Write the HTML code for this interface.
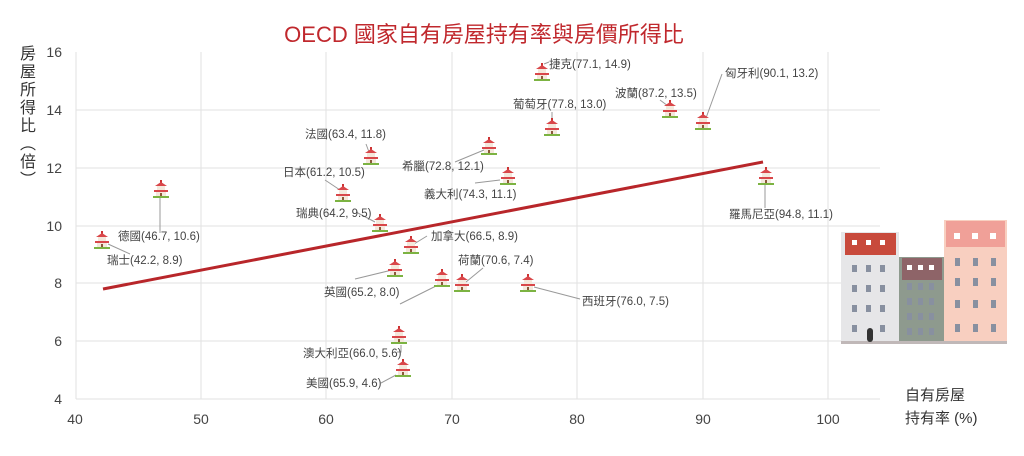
<!DOCTYPE html>
<html><head><meta charset="utf-8"><style>
body{margin:0;background:#fff;}
svg text{font-family:"Liberation Sans","Noto Sans CJK TC",sans-serif;}
</style></head><body>
<svg width="1024" height="451" viewBox="0 0 1024 451" xmlns="http://www.w3.org/2000/svg">
<defs>
<g id="h">
<rect x="-1" y="-10" width="2" height="3" fill="#c33"/>
<polygon points="-6,-4 0,-8 6,-4" fill="#d9474a"/>
<rect x="-4" y="-4" width="8" height="4" fill="#f4e8dc"/>
<rect x="-7" y="0" width="14" height="2" fill="#d9474a"/>
<rect x="-5" y="2" width="10" height="4" fill="#f4e8dc"/>
<rect x="-1" y="3" width="2" height="3" fill="#8a5a3a"/>
<rect x="-8" y="6" width="16" height="2" fill="#7cb342"/>
</g>
</defs>
<g stroke="#e2e2e2" stroke-width="1">
<line x1="201" y1="52" x2="201" y2="399"/><line x1="326" y1="52" x2="326" y2="399"/>
<line x1="452" y1="52" x2="452" y2="399"/><line x1="577" y1="52" x2="577" y2="399"/>
<line x1="703" y1="52" x2="703" y2="399"/><line x1="828" y1="52" x2="828" y2="399"/>
<line x1="76" y1="52" x2="76" y2="399"/>
<line x1="76" y1="110" x2="880" y2="110"/><line x1="76" y1="168" x2="880" y2="168"/>
<line x1="76" y1="226" x2="880" y2="226"/><line x1="76" y1="283" x2="880" y2="283"/>
<line x1="76" y1="341" x2="880" y2="341"/><line x1="76" y1="399" x2="880" y2="399"/>
</g>
<g font-size="14" fill="#444" text-anchor="end">
<text x="62" y="57">16</text><text x="62" y="115">14</text><text x="62" y="173">12</text>
<text x="62" y="231">10</text><text x="62" y="288">8</text><text x="62" y="346">6</text><text x="62" y="404">4</text>
</g>
<g font-size="14" fill="#444" text-anchor="middle">
<text x="75" y="424">40</text><text x="201" y="424">50</text><text x="326" y="424">60</text>
<text x="452" y="424">70</text><text x="577" y="424">80</text><text x="703" y="424">90</text><text x="828" y="424">100</text>
</g>
<g font-size="16" fill="#333" text-anchor="middle">
<text x="28" y="59">房</text><text x="28" y="77">屋</text><text x="28" y="95">所</text>
<text x="28" y="113">得</text><text x="28" y="131">比</text><text x="28" y="149">︵</text><text x="28" y="167">倍</text><text x="28" y="185">︶</text>
</g>
<text x="905" y="400" font-size="15" fill="#333">自有房屋</text>
<text x="905" y="423" font-size="15" fill="#333">持有率 (%)</text>
<text x="484" y="42" font-size="22" fill="#c0282d" text-anchor="middle">OECD 國家自有房屋持有率與房價所得比</text>
<rect x="841" y="232" width="58" height="111" fill="#e6e6e8"/>
<rect x="845" y="233" width="51" height="22" fill="#c84a3c"/>
<rect x="899" y="257" width="45" height="86" fill="#8e9a8e"/>
<rect x="902" y="258" width="40" height="22" fill="#8e6468"/>
<rect x="944" y="220" width="63" height="123" fill="#f8cfc0"/>
<rect x="946" y="221" width="59" height="26" fill="#f0a098"/>
<rect x="841" y="341" width="166" height="3" fill="#c0b8b8"/>
<rect x="867" y="328" width="6" height="14" rx="3" fill="#333"/>
<g fill="#fff">
<rect x="852" y="240" width="5" height="5"/><rect x="866" y="240" width="5" height="5"/><rect x="880" y="240" width="5" height="5"/>
<rect x="907" y="265" width="5" height="5"/><rect x="918" y="265" width="5" height="5"/><rect x="929" y="265" width="5" height="5"/>
<rect x="954" y="233" width="6" height="6"/><rect x="972" y="233" width="6" height="6"/><rect x="990" y="233" width="6" height="6"/>
</g>
<g fill="#8890a0">
<rect x="852" y="265" width="5" height="7"/><rect x="866" y="265" width="5" height="7"/><rect x="880" y="265" width="5" height="7"/>
<rect x="852" y="285" width="5" height="7"/><rect x="866" y="285" width="5" height="7"/><rect x="880" y="285" width="5" height="7"/>
<rect x="852" y="305" width="5" height="7"/><rect x="866" y="305" width="5" height="7"/><rect x="880" y="305" width="5" height="7"/>
<rect x="852" y="325" width="5" height="7"/><rect x="880" y="325" width="5" height="7"/>
<rect x="907" y="283" width="5" height="7"/><rect x="918" y="283" width="5" height="7"/><rect x="929" y="283" width="5" height="7"/>
<rect x="907" y="298" width="5" height="7"/><rect x="918" y="298" width="5" height="7"/><rect x="929" y="298" width="5" height="7"/>
<rect x="907" y="313" width="5" height="7"/><rect x="918" y="313" width="5" height="7"/><rect x="929" y="313" width="5" height="7"/>
<rect x="907" y="328" width="5" height="7"/><rect x="918" y="328" width="5" height="7"/><rect x="929" y="328" width="5" height="7"/>
<rect x="955" y="258" width="5" height="8"/><rect x="973" y="258" width="5" height="8"/><rect x="991" y="258" width="5" height="8"/>
<rect x="955" y="278" width="5" height="8"/><rect x="973" y="278" width="5" height="8"/><rect x="991" y="278" width="5" height="8"/>
<rect x="955" y="300" width="5" height="8"/><rect x="973" y="300" width="5" height="8"/><rect x="991" y="300" width="5" height="8"/>
<rect x="955" y="324" width="5" height="8"/><rect x="973" y="324" width="5" height="8"/><rect x="991" y="324" width="5" height="8"/>
</g>
<line x1="103" y1="289" x2="763" y2="162" stroke="#b8262a" stroke-width="3"/>
<g stroke="#999" stroke-width="1" fill="none">
<polyline points="544,64 549,62"/>
<polyline points="552,112 552,122"/>
<polyline points="660,100 668,106"/>
<polyline points="722,74 706,118"/>
<polyline points="455,162 484,150"/>
<polyline points="366,144 369,152"/>
<polyline points="475,183 500,180"/>
<polyline points="325,180 340,190"/>
<polyline points="356,212 375,222"/>
<polyline points="427,236 414,244"/>
<polyline points="160,233 160,196"/>
<polyline points="130,254 108,244"/>
<polyline points="355,279 392,270"/>
<polyline points="400,304 438,285"/>
<polyline points="483,268 466,282"/>
<polyline points="580,299 534,287"/>
<polyline points="765,208 765,182"/>
<polyline points="397,352 401,352 401,345"/>
<polyline points="381,383 396,375"/>
</g>
<g>
<use href="#h" x="542" y="73"/><use href="#h" x="552" y="128"/><use href="#h" x="670" y="110"/>
<use href="#h" x="703" y="122"/><use href="#h" x="489" y="147"/><use href="#h" x="371" y="157"/>
<use href="#h" x="508" y="177"/><use href="#h" x="343" y="194"/><use href="#h" x="380" y="224"/>
<use href="#h" x="411" y="246"/><use href="#h" x="161" y="190"/><use href="#h" x="102" y="241"/>
<use href="#h" x="395" y="269"/><use href="#h" x="442" y="279"/><use href="#h" x="462" y="284"/>
<use href="#h" x="528" y="284"/><use href="#h" x="766" y="177"/><use href="#h" x="399" y="336"/>
<use href="#h" x="403" y="369"/>
</g>
<g font-size="11.5" fill="#444">
<text x="549" y="68">捷克(77.1, 14.9)</text>
<text x="513" y="108">葡萄牙(77.8, 13.0)</text>
<text x="615" y="97">波蘭(87.2, 13.5)</text>
<text x="725" y="77">匈牙利(90.1, 13.2)</text>
<text x="402" y="170">希臘(72.8, 12.1)</text>
<text x="305" y="138">法國(63.4, 11.8)</text>
<text x="424" y="198">義大利(74.3, 11.1)</text>
<text x="283" y="176">日本(61.2, 10.5)</text>
<text x="296" y="217">瑞典(64.2, 9.5)</text>
<text x="431" y="240">加拿大(66.5, 8.9)</text>
<text x="118" y="240">德國(46.7, 10.6)</text>
<text x="107" y="264">瑞士(42.2, 8.9)</text>
<text x="324" y="296">英國(65.2, 8.0)</text>
<text x="458" y="264">荷蘭(70.6, 7.4)</text>
<text x="582" y="305">西班牙(76.0, 7.5)</text>
<text x="729" y="218">羅馬尼亞(94.8, 11.1)</text>
<text x="303" y="357">澳大利亞(66.0, 5.6)</text>
<text x="306" y="387">美國(65.9, 4.6)</text>
</g>
</svg>
</body></html>
